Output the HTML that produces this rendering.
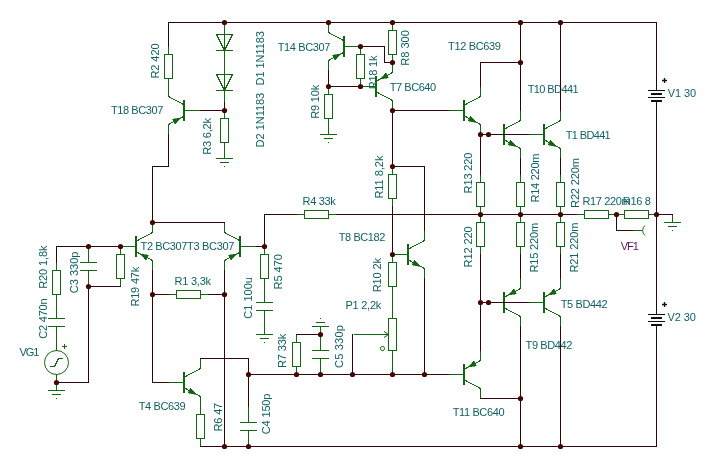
<!DOCTYPE html>
<html><head><meta charset="utf-8"><style>
html,body{margin:0;padding:0;background:#fff;width:717px;height:468px;overflow:hidden}
svg{display:block;will-change:transform}
line,polyline,rect,polygon{shape-rendering:crispEdges}
line,polyline{stroke-linecap:square}
text{font-family:"Liberation Sans",sans-serif;font-size:11px}
</style></head><body>
<svg width="717" height="468" viewBox="0 0 717 468"><text x="110.90" y="114" textLength="52.46" lengthAdjust="spacing" fill="#0f6262">T18 BC307</text>
<text x="277.75" y="51" textLength="52.51" lengthAdjust="spacing" fill="#0f6262">T14 BC307</text>
<text x="448.00" y="50" textLength="52.91" lengthAdjust="spacing" fill="#0f6262">T12 BC639</text>
<text x="389.80" y="91" textLength="46.33" lengthAdjust="spacing" fill="#0f6262">T7 BC640</text>
<text x="527.70" y="93" textLength="50.96" lengthAdjust="spacing" fill="#0f6262">T10 BD441</text>
<text x="565.80" y="139" textLength="44.93" lengthAdjust="spacing" fill="#0f6262">T1 BD441</text>
<text x="667.70" y="97" textLength="28.35" lengthAdjust="spacing" fill="#0f6262">V1 30</text>
<text x="302.60" y="205" textLength="33.16" lengthAdjust="spacing" fill="#0f6262">R4 33k</text>
<text x="582.50" y="205" textLength="48.08" lengthAdjust="spacing" fill="#0f6262">R17 220m</text>
<text x="622.80" y="205" textLength="28.06" lengthAdjust="spacing" fill="#0f6262">R16 8</text>
<text x="338.70" y="241" textLength="46.73" lengthAdjust="spacing" fill="#0f6262">T8 BC182</text>
<text x="140.55" y="250" textLength="46.85" lengthAdjust="spacing" fill="#0f6262">T2 BC307</text>
<text x="187.00" y="250" textLength="47.43" lengthAdjust="spacing" fill="#0f6262">T3 BC307</text>
<text x="174.60" y="285" textLength="36.42" lengthAdjust="spacing" fill="#0f6262">R1 3,3k</text>
<text x="620.70" y="250" textLength="18.09" lengthAdjust="spacing" fill="#5c0f5c">VF1</text>
<text x="345.40" y="309" textLength="35.91" lengthAdjust="spacing" fill="#0f6262">P1 2,2k</text>
<text x="560.70" y="308" textLength="46.93" lengthAdjust="spacing" fill="#0f6262">T5 BD442</text>
<text x="667.50" y="321" textLength="28.25" lengthAdjust="spacing" fill="#0f6262">V2 30</text>
<text x="525.60" y="349" textLength="46.73" lengthAdjust="spacing" fill="#0f6262">T9 BD442</text>
<text x="19.60" y="356" textLength="19.82" lengthAdjust="spacing" fill="#0f6262">VG1</text>
<text x="138.70" y="410" textLength="46.93" lengthAdjust="spacing" fill="#0f6262">T4 BC639</text>
<text x="452.70" y="416" textLength="51.83" lengthAdjust="spacing" fill="#0f6262">T11 BC640</text>
<text transform="translate(158.5,78.60) rotate(-90)" textLength="35.18" lengthAdjust="spacing" fill="#0f6262">R2 420</text>
<text transform="translate(263.5,85.40) rotate(-90)" textLength="54.24" lengthAdjust="spacing" fill="#0f6262">D1 1N1183</text>
<text transform="translate(263.5,147.40) rotate(-90)" textLength="54.64" lengthAdjust="spacing" fill="#0f6262">D2 1N1183</text>
<text transform="translate(210.5,154.80) rotate(-90)" textLength="36.72" lengthAdjust="spacing" fill="#0f6262">R3 6,2k</text>
<text transform="translate(318.5,118.70) rotate(-90)" textLength="33.86" lengthAdjust="spacing" fill="#0f6262">R9 10k</text>
<text transform="translate(376.5,89.30) rotate(-90)" textLength="33.76" lengthAdjust="spacing" fill="#0f6262">R18 1k</text>
<text transform="translate(408.5,65.70) rotate(-90)" textLength="35.48" lengthAdjust="spacing" fill="#0f6262">R8 300</text>
<text transform="translate(382.5,198.60) rotate(-90)" textLength="43.02" lengthAdjust="spacing" fill="#0f6262">R11 8,2k</text>
<text transform="translate(471.5,193.40) rotate(-90)" textLength="40.89" lengthAdjust="spacing" fill="#0f6262">R13 220</text>
<text transform="translate(538.5,202.50) rotate(-90)" textLength="48.97" lengthAdjust="spacing" fill="#0f6262">R14 220m</text>
<text transform="translate(578.5,207.90) rotate(-90)" textLength="49.77" lengthAdjust="spacing" fill="#0f6262">R22 220m</text>
<text transform="translate(471.5,267.40) rotate(-90)" textLength="41.09" lengthAdjust="spacing" fill="#0f6262">R12 220</text>
<text transform="translate(537.5,272.50) rotate(-90)" textLength="49.67" lengthAdjust="spacing" fill="#0f6262">R15 220m</text>
<text transform="translate(577.5,272.50) rotate(-90)" textLength="49.97" lengthAdjust="spacing" fill="#0f6262">R21 220m</text>
<text transform="translate(138.5,306.60) rotate(-90)" textLength="39.88" lengthAdjust="spacing" fill="#0f6262">R19 47k</text>
<text transform="translate(46.5,288.80) rotate(-90)" textLength="43.23" lengthAdjust="spacing" fill="#0f6262">R20 1,8k</text>
<text transform="translate(77.5,293.20) rotate(-90)" textLength="41.59" lengthAdjust="spacing" fill="#0f6262">C3 330p</text>
<text transform="translate(46.5,338.80) rotate(-90)" textLength="40.49" lengthAdjust="spacing" fill="#0f6262">C2 470n</text>
<text transform="translate(251.5,318.70) rotate(-90)" textLength="41.59" lengthAdjust="spacing" fill="#0f6262">C1 100u</text>
<text transform="translate(281.5,289.50) rotate(-90)" textLength="35.38" lengthAdjust="spacing" fill="#0f6262">R5 470</text>
<text transform="translate(285.5,368.00) rotate(-90)" textLength="34.36" lengthAdjust="spacing" fill="#0f6262">R7 33k</text>
<text transform="translate(342.5,368.00) rotate(-90)" textLength="42.89" lengthAdjust="spacing" fill="#0f6262">C5 330p</text>
<text transform="translate(380.5,292.30) rotate(-90)" textLength="34.36" lengthAdjust="spacing" fill="#0f6262">R10 2k</text>
<text transform="translate(221.5,431.50) rotate(-90)" textLength="28.76" lengthAdjust="spacing" fill="#0f6262">R6 47</text>
<text transform="translate(269.5,434.30) rotate(-90)" textLength="40.79" lengthAdjust="spacing" fill="#0f6262">C4 150p</text>
<line x1="168.5" y1="46.5" x2="168.5" y2="54.5" stroke="#0f680f" stroke-width="1"/>
<line x1="168.5" y1="78.5" x2="168.5" y2="86.5" stroke="#0f680f" stroke-width="1"/>
<rect x="164.5" y="54.5" width="8" height="24" fill="none" stroke="#0f680f"/>
<rect x="183" y="100" width="2" height="21" fill="#0f680f"/>
<line x1="184.5" y1="110.5" x2="200.5" y2="110.5" stroke="#0f680f" stroke-width="1"/>
<line x1="183.5" y1="104.5" x2="168.5" y2="96.5" stroke="#0f680f"/>
<line x1="183.5" y1="116.5" x2="168.5" y2="124.5" stroke="#0f680f"/>
<line x1="168.5" y1="96.5" x2="168.5" y2="86.5" stroke="#0f680f" stroke-width="1"/>
<line x1="168.5" y1="124.5" x2="168.5" y2="134.5" stroke="#0f680f" stroke-width="1"/>
<polygon points="180.85,117.91 175.06,124.06 172.52,119.29" fill="#0f680f" stroke="#0f680f" stroke-width="0.6"/>
<line x1="224.5" y1="22.5" x2="224.5" y2="62.5" stroke="#0f680f" stroke-width="1"/>
<polygon points="216.5,34.5 232.5,34.5 224.5,50.5" fill="none" stroke="#0f680f"/>
<line x1="216.5" y1="50.5" x2="232.5" y2="50.5" stroke="#0f680f" stroke-width="1"/>
<line x1="224.5" y1="62.5" x2="224.5" y2="102.5" stroke="#0f680f" stroke-width="1"/>
<polygon points="216.5,74.5 232.5,74.5 224.5,90.5" fill="none" stroke="#0f680f"/>
<line x1="216.5" y1="90.5" x2="232.5" y2="90.5" stroke="#0f680f" stroke-width="1"/>
<line x1="224.5" y1="110.5" x2="224.5" y2="118.5" stroke="#0f680f" stroke-width="1"/>
<line x1="224.5" y1="142.5" x2="224.5" y2="150.5" stroke="#0f680f" stroke-width="1"/>
<rect x="220.5" y="118.5" width="8" height="24" fill="none" stroke="#0f680f"/>
<line x1="224.5" y1="150.5" x2="224.5" y2="158.5" stroke="#0f680f" stroke-width="1"/>
<line x1="216.5" y1="158.5" x2="232.5" y2="158.5" stroke="#0f680f" stroke-width="1"/>
<line x1="220.5" y1="162.5" x2="228.5" y2="162.5" stroke="#0f680f" stroke-width="1"/>
<rect x="224" y="166" width="1" height="1" fill="#0f680f"/>
<rect x="343" y="36" width="2" height="21" fill="#0f680f"/>
<line x1="344.5" y1="46.5" x2="360.5" y2="46.5" stroke="#0f680f" stroke-width="1"/>
<line x1="343.5" y1="40.5" x2="328.5" y2="32.5" stroke="#0f680f"/>
<line x1="343.5" y1="52.5" x2="328.5" y2="60.5" stroke="#0f680f"/>
<line x1="328.5" y1="32.5" x2="328.5" y2="22.5" stroke="#0f680f" stroke-width="1"/>
<line x1="328.5" y1="60.5" x2="328.5" y2="70.5" stroke="#0f680f" stroke-width="1"/>
<polygon points="340.85,53.91 335.06,60.06 332.52,55.29" fill="#0f680f" stroke="#0f680f" stroke-width="0.6"/>
<line x1="328.5" y1="86.5" x2="328.5" y2="94.5" stroke="#0f680f" stroke-width="1"/>
<line x1="328.5" y1="118.5" x2="328.5" y2="126.5" stroke="#0f680f" stroke-width="1"/>
<rect x="324.5" y="94.5" width="8" height="24" fill="none" stroke="#0f680f"/>
<line x1="328.5" y1="126.5" x2="328.5" y2="134.5" stroke="#0f680f" stroke-width="1"/>
<line x1="320.5" y1="134.5" x2="336.5" y2="134.5" stroke="#0f680f" stroke-width="1"/>
<line x1="324.5" y1="138.5" x2="332.5" y2="138.5" stroke="#0f680f" stroke-width="1"/>
<rect x="328" y="142" width="1" height="1" fill="#0f680f"/>
<line x1="360.5" y1="46.5" x2="360.5" y2="54.5" stroke="#0f680f" stroke-width="1"/>
<line x1="360.5" y1="78.5" x2="360.5" y2="86.5" stroke="#0f680f" stroke-width="1"/>
<rect x="356.5" y="54.5" width="8" height="24" fill="none" stroke="#0f680f"/>
<line x1="392.5" y1="22.5" x2="392.5" y2="30.5" stroke="#0f680f" stroke-width="1"/>
<line x1="392.5" y1="54.5" x2="392.5" y2="62.5" stroke="#0f680f" stroke-width="1"/>
<rect x="388.5" y="30.5" width="8" height="24" fill="none" stroke="#0f680f"/>
<rect x="375" y="76" width="2" height="21" fill="#0f680f"/>
<line x1="360.5" y1="86.5" x2="376.5" y2="86.5" stroke="#0f680f" stroke-width="1"/>
<line x1="377.5" y1="80.5" x2="392.5" y2="72.5" stroke="#0f680f"/>
<line x1="377.5" y1="92.5" x2="392.5" y2="100.5" stroke="#0f680f"/>
<line x1="392.5" y1="72.5" x2="392.5" y2="62.5" stroke="#0f680f" stroke-width="1"/>
<line x1="392.5" y1="100.5" x2="392.5" y2="110.5" stroke="#0f680f" stroke-width="1"/>
<polygon points="380.15,79.09 385.94,72.94 388.48,77.71" fill="#0f680f" stroke="#0f680f" stroke-width="0.6"/>
<rect x="463" y="100" width="2" height="21" fill="#0f680f"/>
<line x1="448.5" y1="110.5" x2="464.5" y2="110.5" stroke="#0f680f" stroke-width="1"/>
<line x1="465.5" y1="104.5" x2="480.5" y2="96.5" stroke="#0f680f"/>
<line x1="465.5" y1="116.5" x2="480.5" y2="124.5" stroke="#0f680f"/>
<line x1="480.5" y1="96.5" x2="480.5" y2="86.5" stroke="#0f680f" stroke-width="1"/>
<line x1="480.5" y1="124.5" x2="480.5" y2="134.5" stroke="#0f680f" stroke-width="1"/>
<polygon points="476.97,122.62 467.94,120.86 470.48,116.09" fill="#0f680f" stroke="#0f680f" stroke-width="0.6"/>
<rect x="503" y="124" width="2" height="21" fill="#0f680f"/>
<line x1="488.5" y1="134.5" x2="504.5" y2="134.5" stroke="#0f680f" stroke-width="1"/>
<line x1="505.5" y1="128.5" x2="520.5" y2="120.5" stroke="#0f680f"/>
<line x1="505.5" y1="140.5" x2="520.5" y2="148.5" stroke="#0f680f"/>
<line x1="520.5" y1="120.5" x2="520.5" y2="110.5" stroke="#0f680f" stroke-width="1"/>
<line x1="520.5" y1="148.5" x2="520.5" y2="158.5" stroke="#0f680f" stroke-width="1"/>
<polygon points="516.97,146.62 507.94,144.86 510.48,140.09" fill="#0f680f" stroke="#0f680f" stroke-width="0.6"/>
<rect x="543" y="124" width="2" height="21" fill="#0f680f"/>
<line x1="528.5" y1="134.5" x2="544.5" y2="134.5" stroke="#0f680f" stroke-width="1"/>
<line x1="545.5" y1="128.5" x2="560.5" y2="120.5" stroke="#0f680f"/>
<line x1="545.5" y1="140.5" x2="560.5" y2="148.5" stroke="#0f680f"/>
<line x1="560.5" y1="120.5" x2="560.5" y2="110.5" stroke="#0f680f" stroke-width="1"/>
<line x1="560.5" y1="148.5" x2="560.5" y2="158.5" stroke="#0f680f" stroke-width="1"/>
<polygon points="556.97,146.62 547.94,144.86 550.48,140.09" fill="#0f680f" stroke="#0f680f" stroke-width="0.6"/>
<line x1="480.5" y1="174.5" x2="480.5" y2="182.5" stroke="#0f680f" stroke-width="1"/>
<line x1="480.5" y1="206.5" x2="480.5" y2="214.5" stroke="#0f680f" stroke-width="1"/>
<rect x="476.5" y="182.5" width="8" height="24" fill="none" stroke="#0f680f"/>
<line x1="480.5" y1="214.5" x2="480.5" y2="222.5" stroke="#0f680f" stroke-width="1"/>
<line x1="480.5" y1="246.5" x2="480.5" y2="254.5" stroke="#0f680f" stroke-width="1"/>
<rect x="476.5" y="222.5" width="8" height="24" fill="none" stroke="#0f680f"/>
<line x1="520.5" y1="174.5" x2="520.5" y2="182.5" stroke="#0f680f" stroke-width="1"/>
<line x1="520.5" y1="206.5" x2="520.5" y2="214.5" stroke="#0f680f" stroke-width="1"/>
<rect x="516.5" y="182.5" width="8" height="24" fill="none" stroke="#0f680f"/>
<line x1="520.5" y1="214.5" x2="520.5" y2="222.5" stroke="#0f680f" stroke-width="1"/>
<line x1="520.5" y1="246.5" x2="520.5" y2="254.5" stroke="#0f680f" stroke-width="1"/>
<rect x="516.5" y="222.5" width="8" height="24" fill="none" stroke="#0f680f"/>
<line x1="560.5" y1="174.5" x2="560.5" y2="182.5" stroke="#0f680f" stroke-width="1"/>
<line x1="560.5" y1="206.5" x2="560.5" y2="214.5" stroke="#0f680f" stroke-width="1"/>
<rect x="556.5" y="182.5" width="8" height="24" fill="none" stroke="#0f680f"/>
<line x1="560.5" y1="214.5" x2="560.5" y2="222.5" stroke="#0f680f" stroke-width="1"/>
<line x1="560.5" y1="246.5" x2="560.5" y2="254.5" stroke="#0f680f" stroke-width="1"/>
<rect x="556.5" y="222.5" width="8" height="24" fill="none" stroke="#0f680f"/>
<line x1="296.5" y1="214.5" x2="304.5" y2="214.5" stroke="#0f680f" stroke-width="1"/>
<line x1="328.5" y1="214.5" x2="336.5" y2="214.5" stroke="#0f680f" stroke-width="1"/>
<rect x="304.5" y="210.5" width="24" height="8" fill="none" stroke="#0f680f"/>
<line x1="392.5" y1="166.5" x2="392.5" y2="174.5" stroke="#0f680f" stroke-width="1"/>
<line x1="392.5" y1="198.5" x2="392.5" y2="206.5" stroke="#0f680f" stroke-width="1"/>
<rect x="388.5" y="174.5" width="8" height="24" fill="none" stroke="#0f680f"/>
<rect x="407" y="244" width="2" height="21" fill="#0f680f"/>
<line x1="392.5" y1="254.5" x2="408.5" y2="254.5" stroke="#0f680f" stroke-width="1"/>
<line x1="409.5" y1="248.5" x2="424.5" y2="240.5" stroke="#0f680f"/>
<line x1="409.5" y1="260.5" x2="424.5" y2="268.5" stroke="#0f680f"/>
<line x1="424.5" y1="240.5" x2="424.5" y2="230.5" stroke="#0f680f" stroke-width="1"/>
<line x1="424.5" y1="268.5" x2="424.5" y2="278.5" stroke="#0f680f" stroke-width="1"/>
<polygon points="420.97,266.62 411.94,264.86 414.48,260.09" fill="#0f680f" stroke="#0f680f" stroke-width="0.6"/>
<line x1="392.5" y1="254.5" x2="392.5" y2="262.5" stroke="#0f680f" stroke-width="1"/>
<line x1="392.5" y1="286.5" x2="392.5" y2="294.5" stroke="#0f680f" stroke-width="1"/>
<rect x="388.5" y="262.5" width="8" height="24" fill="none" stroke="#0f680f"/>
<line x1="392.5" y1="294.5" x2="392.5" y2="318.5" stroke="#0f680f" stroke-width="1"/>
<line x1="392.5" y1="350.5" x2="392.5" y2="374.5" stroke="#0f680f" stroke-width="1"/>
<rect x="388.5" y="318.5" width="8" height="32" fill="none" stroke="#0f680f"/>
<line x1="354.5" y1="334.5" x2="388.5" y2="334.5" stroke="#0f680f" stroke-width="1"/>
<path d="M384,331.5 L388.5,334.5 L384,337.5" fill="none" stroke="#0f680f"/>
<circle cx="382.5" cy="348.5" r="2.1" fill="none" stroke="#0f680f" stroke-width="1"/>
<rect x="135" y="236" width="2" height="21" fill="#0f680f"/>
<line x1="120.5" y1="246.5" x2="136.5" y2="246.5" stroke="#0f680f" stroke-width="1"/>
<line x1="137.5" y1="240.5" x2="152.5" y2="232.5" stroke="#0f680f"/>
<line x1="137.5" y1="252.5" x2="152.5" y2="260.5" stroke="#0f680f"/>
<line x1="152.5" y1="232.5" x2="152.5" y2="222.5" stroke="#0f680f" stroke-width="1"/>
<line x1="152.5" y1="260.5" x2="152.5" y2="270.5" stroke="#0f680f" stroke-width="1"/>
<polygon points="140.15,253.91 148.48,255.29 145.94,260.06" fill="#0f680f" stroke="#0f680f" stroke-width="0.6"/>
<rect x="239" y="236" width="2" height="21" fill="#0f680f"/>
<line x1="240.5" y1="246.5" x2="256.5" y2="246.5" stroke="#0f680f" stroke-width="1"/>
<line x1="239.5" y1="240.5" x2="224.5" y2="232.5" stroke="#0f680f"/>
<line x1="239.5" y1="252.5" x2="224.5" y2="260.5" stroke="#0f680f"/>
<line x1="224.5" y1="232.5" x2="224.5" y2="222.5" stroke="#0f680f" stroke-width="1"/>
<line x1="224.5" y1="260.5" x2="224.5" y2="270.5" stroke="#0f680f" stroke-width="1"/>
<polygon points="236.85,253.91 231.06,260.06 228.52,255.29" fill="#0f680f" stroke="#0f680f" stroke-width="0.6"/>
<line x1="120.5" y1="246.5" x2="120.5" y2="254.5" stroke="#0f680f" stroke-width="1"/>
<line x1="120.5" y1="278.5" x2="120.5" y2="286.5" stroke="#0f680f" stroke-width="1"/>
<rect x="116.5" y="254.5" width="8" height="24" fill="none" stroke="#0f680f"/>
<line x1="168.5" y1="294.5" x2="176.5" y2="294.5" stroke="#0f680f" stroke-width="1"/>
<line x1="200.5" y1="294.5" x2="208.5" y2="294.5" stroke="#0f680f" stroke-width="1"/>
<rect x="176.5" y="290.5" width="24" height="8" fill="none" stroke="#0f680f"/>
<line x1="264.5" y1="246.5" x2="264.5" y2="254.5" stroke="#0f680f" stroke-width="1"/>
<line x1="264.5" y1="278.5" x2="264.5" y2="286.5" stroke="#0f680f" stroke-width="1"/>
<rect x="260.5" y="254.5" width="8" height="24" fill="none" stroke="#0f680f"/>
<line x1="264.5" y1="286.5" x2="264.5" y2="302.5" stroke="#0f680f" stroke-width="1"/>
<line x1="264.5" y1="310.5" x2="264.5" y2="326.5" stroke="#0f680f" stroke-width="1"/>
<line x1="256.5" y1="302.5" x2="272.5" y2="302.5" stroke="#0f680f" stroke-width="1"/>
<line x1="256.5" y1="310.5" x2="272.5" y2="310.5" stroke="#0f680f" stroke-width="1"/>
<line x1="264.5" y1="326.5" x2="264.5" y2="334.5" stroke="#0f680f" stroke-width="1"/>
<line x1="256.5" y1="334.5" x2="272.5" y2="334.5" stroke="#0f680f" stroke-width="1"/>
<line x1="260.5" y1="338.5" x2="268.5" y2="338.5" stroke="#0f680f" stroke-width="1"/>
<rect x="264" y="342" width="1" height="1" fill="#0f680f"/>
<line x1="56.5" y1="262.5" x2="56.5" y2="270.5" stroke="#0f680f" stroke-width="1"/>
<line x1="56.5" y1="294.5" x2="56.5" y2="302.5" stroke="#0f680f" stroke-width="1"/>
<rect x="52.5" y="270.5" width="8" height="24" fill="none" stroke="#0f680f"/>
<line x1="88.5" y1="246.5" x2="88.5" y2="262.5" stroke="#0f680f" stroke-width="1"/>
<line x1="88.5" y1="270.5" x2="88.5" y2="286.5" stroke="#0f680f" stroke-width="1"/>
<line x1="80.5" y1="262.5" x2="96.5" y2="262.5" stroke="#0f680f" stroke-width="1"/>
<line x1="80.5" y1="270.5" x2="96.5" y2="270.5" stroke="#0f680f" stroke-width="1"/>
<line x1="56.5" y1="302.5" x2="56.5" y2="318.5" stroke="#0f680f" stroke-width="1"/>
<line x1="56.5" y1="326.5" x2="56.5" y2="342.5" stroke="#0f680f" stroke-width="1"/>
<line x1="48.5" y1="318.5" x2="64.5" y2="318.5" stroke="#0f680f" stroke-width="1"/>
<line x1="48.5" y1="326.5" x2="64.5" y2="326.5" stroke="#0f680f" stroke-width="1"/>
<line x1="56.5" y1="342.5" x2="56.5" y2="350.5" stroke="#0f680f" stroke-width="1"/>
<line x1="56.5" y1="374.5" x2="56.5" y2="382.5" stroke="#0f680f" stroke-width="1"/>
<circle cx="56.5" cy="362.5" r="12" fill="none" stroke="#0f680f"/>
<polyline points="50.5,366.5 54.5,366.5 58.5,358.5 62.5,358.5" fill="none" stroke="#0f680f" stroke-width="1"/>
<line x1="62.5" y1="346.5" x2="66.5" y2="346.5" stroke="#0f680f" stroke-width="1"/>
<line x1="64.5" y1="344.5" x2="64.5" y2="348.5" stroke="#0f680f" stroke-width="1"/>
<line x1="56.5" y1="382.5" x2="56.5" y2="390.5" stroke="#0f680f" stroke-width="1"/>
<line x1="48.5" y1="390.5" x2="64.5" y2="390.5" stroke="#0f680f" stroke-width="1"/>
<line x1="52.5" y1="394.5" x2="60.5" y2="394.5" stroke="#0f680f" stroke-width="1"/>
<rect x="56" y="398" width="1" height="1" fill="#0f680f"/>
<rect x="183" y="372" width="2" height="21" fill="#0f680f"/>
<line x1="168.5" y1="382.5" x2="184.5" y2="382.5" stroke="#0f680f" stroke-width="1"/>
<line x1="185.5" y1="376.5" x2="200.5" y2="368.5" stroke="#0f680f"/>
<line x1="185.5" y1="388.5" x2="200.5" y2="396.5" stroke="#0f680f"/>
<line x1="200.5" y1="368.5" x2="200.5" y2="358.5" stroke="#0f680f" stroke-width="1"/>
<line x1="200.5" y1="396.5" x2="200.5" y2="406.5" stroke="#0f680f" stroke-width="1"/>
<polygon points="196.97,394.62 187.94,392.86 190.48,388.09" fill="#0f680f" stroke="#0f680f" stroke-width="0.6"/>
<line x1="200.5" y1="406.5" x2="200.5" y2="414.5" stroke="#0f680f" stroke-width="1"/>
<line x1="200.5" y1="438.5" x2="200.5" y2="446.5" stroke="#0f680f" stroke-width="1"/>
<rect x="196.5" y="414.5" width="8" height="24" fill="none" stroke="#0f680f"/>
<line x1="248.5" y1="406.5" x2="248.5" y2="422.5" stroke="#0f680f" stroke-width="1"/>
<line x1="248.5" y1="430.5" x2="248.5" y2="446.5" stroke="#0f680f" stroke-width="1"/>
<line x1="240.5" y1="422.5" x2="256.5" y2="422.5" stroke="#0f680f" stroke-width="1"/>
<line x1="240.5" y1="430.5" x2="256.5" y2="430.5" stroke="#0f680f" stroke-width="1"/>
<line x1="296.5" y1="334.5" x2="296.5" y2="342.5" stroke="#0f680f" stroke-width="1"/>
<line x1="296.5" y1="366.5" x2="296.5" y2="374.5" stroke="#0f680f" stroke-width="1"/>
<rect x="292.5" y="342.5" width="8" height="24" fill="none" stroke="#0f680f"/>
<line x1="320.5" y1="334.5" x2="320.5" y2="350.5" stroke="#0f680f" stroke-width="1"/>
<line x1="320.5" y1="358.5" x2="320.5" y2="374.5" stroke="#0f680f" stroke-width="1"/>
<line x1="312.5" y1="350.5" x2="328.5" y2="350.5" stroke="#0f680f" stroke-width="1"/>
<line x1="312.5" y1="358.5" x2="328.5" y2="358.5" stroke="#0f680f" stroke-width="1"/>
<line x1="320.5" y1="334.5" x2="320.5" y2="326.5" stroke="#0f680f" stroke-width="1"/>
<line x1="312.5" y1="326.5" x2="328.5" y2="326.5" stroke="#0f680f" stroke-width="1"/>
<line x1="316.5" y1="322.5" x2="324.5" y2="322.5" stroke="#0f680f" stroke-width="1"/>
<rect x="320" y="318" width="1" height="1" fill="#0f680f"/>
<rect x="503" y="292" width="2" height="21" fill="#0f680f"/>
<line x1="488.5" y1="302.5" x2="504.5" y2="302.5" stroke="#0f680f" stroke-width="1"/>
<line x1="505.5" y1="296.5" x2="520.5" y2="288.5" stroke="#0f680f"/>
<line x1="505.5" y1="308.5" x2="520.5" y2="316.5" stroke="#0f680f"/>
<line x1="520.5" y1="288.5" x2="520.5" y2="278.5" stroke="#0f680f" stroke-width="1"/>
<line x1="520.5" y1="316.5" x2="520.5" y2="326.5" stroke="#0f680f" stroke-width="1"/>
<polygon points="508.15,295.09 513.94,288.94 516.48,293.71" fill="#0f680f" stroke="#0f680f" stroke-width="0.6"/>
<rect x="543" y="292" width="2" height="21" fill="#0f680f"/>
<line x1="528.5" y1="302.5" x2="544.5" y2="302.5" stroke="#0f680f" stroke-width="1"/>
<line x1="545.5" y1="296.5" x2="560.5" y2="288.5" stroke="#0f680f"/>
<line x1="545.5" y1="308.5" x2="560.5" y2="316.5" stroke="#0f680f"/>
<line x1="560.5" y1="288.5" x2="560.5" y2="278.5" stroke="#0f680f" stroke-width="1"/>
<line x1="560.5" y1="316.5" x2="560.5" y2="326.5" stroke="#0f680f" stroke-width="1"/>
<polygon points="548.15,295.09 553.94,288.94 556.48,293.71" fill="#0f680f" stroke="#0f680f" stroke-width="0.6"/>
<rect x="463" y="364" width="2" height="21" fill="#0f680f"/>
<line x1="448.5" y1="374.5" x2="464.5" y2="374.5" stroke="#0f680f" stroke-width="1"/>
<line x1="465.5" y1="368.5" x2="480.5" y2="360.5" stroke="#0f680f"/>
<line x1="465.5" y1="380.5" x2="480.5" y2="388.5" stroke="#0f680f"/>
<line x1="480.5" y1="360.5" x2="480.5" y2="350.5" stroke="#0f680f" stroke-width="1"/>
<line x1="480.5" y1="388.5" x2="480.5" y2="398.5" stroke="#0f680f" stroke-width="1"/>
<polygon points="468.15,367.09 473.94,360.94 476.48,365.71" fill="#0f680f" stroke="#0f680f" stroke-width="0.6"/>
<line x1="576.5" y1="214.5" x2="584.5" y2="214.5" stroke="#0f680f" stroke-width="1"/>
<line x1="608.5" y1="214.5" x2="616.5" y2="214.5" stroke="#0f680f" stroke-width="1"/>
<rect x="584.5" y="210.5" width="24" height="8" fill="none" stroke="#0f680f"/>
<line x1="616.5" y1="214.5" x2="624.5" y2="214.5" stroke="#0f680f" stroke-width="1"/>
<line x1="648.5" y1="214.5" x2="656.5" y2="214.5" stroke="#0f680f" stroke-width="1"/>
<rect x="624.5" y="210.5" width="24" height="8" fill="none" stroke="#0f680f"/>
<line x1="672.5" y1="214.5" x2="672.5" y2="222.5" stroke="#0f680f" stroke-width="1"/>
<line x1="664.5" y1="222.5" x2="680.5" y2="222.5" stroke="#0f680f" stroke-width="1"/>
<line x1="668.5" y1="226.5" x2="676.5" y2="226.5" stroke="#0f680f" stroke-width="1"/>
<rect x="672" y="230" width="1" height="1" fill="#0f680f"/>
<line x1="632.5" y1="230.5" x2="641.5" y2="230.5" stroke="#0f680f" stroke-width="1"/>
<path d="M645,225.5 A6.5,6.5 0 0,0 645,235.5" fill="none" stroke="#0f680f"/>
<line x1="648.5" y1="90.5" x2="664.5" y2="90.5" stroke="#101010" stroke-width="1"/>
<rect x="651" y="93" width="11" height="2" fill="#101010"/>
<line x1="648.5" y1="97.5" x2="664.5" y2="97.5" stroke="#101010" stroke-width="1"/>
<rect x="651" y="100" width="11" height="2" fill="#101010"/>
<rect x="656" y="102" width="1" height="16" fill="#101010"/>
<rect x="656" y="78" width="1" height="12" fill="#101010"/>
<path d="M662,80.5H667M664.5,78V83" stroke="#101010" stroke-width="1.3" fill="none"/>
<line x1="648.5" y1="314.5" x2="664.5" y2="314.5" stroke="#101010" stroke-width="1"/>
<rect x="651" y="317" width="11" height="2" fill="#101010"/>
<line x1="648.5" y1="321.5" x2="664.5" y2="321.5" stroke="#101010" stroke-width="1"/>
<rect x="651" y="324" width="11" height="2" fill="#101010"/>
<rect x="656" y="326" width="1" height="16" fill="#101010"/>
<rect x="656" y="302" width="1" height="12" fill="#101010"/>
<path d="M662,304.5H667M664.5,302V307" stroke="#101010" stroke-width="1.3" fill="none"/>
<polyline points="168.5,46.5 168.5,22.5 656.5,22.5 656.5,78.5" fill="none" stroke="#320606" stroke-width="1"/>
<polyline points="656.5,118.5 656.5,302.5" fill="none" stroke="#320606" stroke-width="1"/>
<polyline points="656.5,342.5 656.5,446.5 200.5,446.5" fill="none" stroke="#320606" stroke-width="1"/>
<polyline points="224.5,102.5 224.5,110.5" fill="none" stroke="#320606" stroke-width="1"/>
<polyline points="200.5,110.5 224.5,110.5" fill="none" stroke="#320606" stroke-width="1"/>
<polyline points="168.5,134.5 168.5,166.5 152.5,166.5 152.5,222.5 224.5,222.5" fill="none" stroke="#320606" stroke-width="1"/>
<polyline points="152.5,270.5 152.5,382.5 168.5,382.5" fill="none" stroke="#320606" stroke-width="1"/>
<polyline points="152.5,294.5 168.5,294.5" fill="none" stroke="#320606" stroke-width="1"/>
<polyline points="208.5,294.5 224.5,294.5" fill="none" stroke="#320606" stroke-width="1"/>
<polyline points="224.5,270.5 224.5,446.5" fill="none" stroke="#320606" stroke-width="1"/>
<polyline points="56.5,262.5 56.5,246.5 120.5,246.5" fill="none" stroke="#320606" stroke-width="1"/>
<polyline points="120.5,286.5 88.5,286.5 88.5,382.5 56.5,382.5" fill="none" stroke="#320606" stroke-width="1"/>
<polyline points="256.5,246.5 264.5,246.5 264.5,214.5 296.5,214.5" fill="none" stroke="#320606" stroke-width="1"/>
<polyline points="336.5,214.5 576.5,214.5" fill="none" stroke="#320606" stroke-width="1"/>
<polyline points="656.5,214.5 672.5,214.5" fill="none" stroke="#320606" stroke-width="1"/>
<polyline points="616.5,214.5 616.5,230.5 632.5,230.5" fill="none" stroke="#320606" stroke-width="1"/>
<polyline points="200.5,358.5 248.5,358.5 248.5,406.5" fill="none" stroke="#320606" stroke-width="1"/>
<polyline points="248.5,374.5 448.5,374.5" fill="none" stroke="#320606" stroke-width="1"/>
<polyline points="296.5,334.5 320.5,334.5" fill="none" stroke="#320606" stroke-width="1"/>
<polyline points="352.5,374.5 352.5,334.5" fill="none" stroke="#320606" stroke-width="1"/>
<polyline points="424.5,278.5 424.5,374.5" fill="none" stroke="#320606" stroke-width="1"/>
<polyline points="424.5,230.5 424.5,166.5 392.5,166.5" fill="none" stroke="#320606" stroke-width="1"/>
<polyline points="392.5,110.5 392.5,166.5" fill="none" stroke="#320606" stroke-width="1"/>
<polyline points="392.5,206.5 392.5,254.5" fill="none" stroke="#320606" stroke-width="1"/>
<polyline points="392.5,110.5 448.5,110.5" fill="none" stroke="#320606" stroke-width="1"/>
<polyline points="360.5,46.5 384.5,46.5 384.5,62.5 392.5,62.5" fill="none" stroke="#320606" stroke-width="1"/>
<polyline points="328.5,70.5 328.5,86.5 360.5,86.5" fill="none" stroke="#320606" stroke-width="1"/>
<polyline points="480.5,86.5 480.5,62.5 520.5,62.5" fill="none" stroke="#320606" stroke-width="1"/>
<polyline points="520.5,110.5 520.5,22.5" fill="none" stroke="#320606" stroke-width="1"/>
<polyline points="560.5,110.5 560.5,22.5" fill="none" stroke="#320606" stroke-width="1"/>
<polyline points="480.5,134.5 528.5,134.5" fill="none" stroke="#320606" stroke-width="1"/>
<polyline points="480.5,134.5 480.5,174.5" fill="none" stroke="#320606" stroke-width="1"/>
<polyline points="520.5,158.5 520.5,174.5" fill="none" stroke="#320606" stroke-width="1"/>
<polyline points="560.5,158.5 560.5,174.5" fill="none" stroke="#320606" stroke-width="1"/>
<polyline points="480.5,254.5 480.5,350.5" fill="none" stroke="#320606" stroke-width="1"/>
<polyline points="480.5,302.5 528.5,302.5" fill="none" stroke="#320606" stroke-width="1"/>
<polyline points="520.5,254.5 520.5,278.5" fill="none" stroke="#320606" stroke-width="1"/>
<polyline points="560.5,254.5 560.5,278.5" fill="none" stroke="#320606" stroke-width="1"/>
<polyline points="520.5,326.5 520.5,446.5" fill="none" stroke="#320606" stroke-width="1"/>
<polyline points="560.5,326.5 560.5,446.5" fill="none" stroke="#320606" stroke-width="1"/>
<polyline points="480.5,398.5 520.5,398.5" fill="none" stroke="#320606" stroke-width="1"/>
<circle cx="224.5" cy="22.5" r="2.6" fill="#420808"/>
<circle cx="328.5" cy="22.5" r="2.6" fill="#420808"/>
<circle cx="392.5" cy="22.5" r="2.6" fill="#420808"/>
<circle cx="520.5" cy="22.5" r="2.6" fill="#420808"/>
<circle cx="560.5" cy="22.5" r="2.6" fill="#420808"/>
<circle cx="224.5" cy="110.5" r="2.6" fill="#420808"/>
<circle cx="360.5" cy="46.5" r="2.6" fill="#420808"/>
<circle cx="392.5" cy="62.5" r="2.6" fill="#420808"/>
<circle cx="328.5" cy="86.5" r="2.6" fill="#420808"/>
<circle cx="360.5" cy="86.5" r="2.6" fill="#420808"/>
<circle cx="392.5" cy="110.5" r="2.6" fill="#420808"/>
<circle cx="520.5" cy="62.5" r="2.6" fill="#420808"/>
<circle cx="480.5" cy="134.5" r="2.6" fill="#420808"/>
<circle cx="488.5" cy="134.5" r="2.6" fill="#420808"/>
<circle cx="392.5" cy="166.5" r="2.6" fill="#420808"/>
<circle cx="480.5" cy="214.5" r="2.6" fill="#420808"/>
<circle cx="520.5" cy="214.5" r="2.6" fill="#420808"/>
<circle cx="560.5" cy="214.5" r="2.6" fill="#420808"/>
<circle cx="616.5" cy="214.5" r="2.6" fill="#420808"/>
<circle cx="656.5" cy="214.5" r="2.6" fill="#420808"/>
<circle cx="152.5" cy="222.5" r="2.6" fill="#420808"/>
<circle cx="88.5" cy="246.5" r="2.6" fill="#420808"/>
<circle cx="120.5" cy="246.5" r="2.6" fill="#420808"/>
<circle cx="264.5" cy="246.5" r="2.6" fill="#420808"/>
<circle cx="392.5" cy="254.5" r="2.6" fill="#420808"/>
<circle cx="88.5" cy="286.5" r="2.6" fill="#420808"/>
<circle cx="152.5" cy="294.5" r="2.6" fill="#420808"/>
<circle cx="224.5" cy="294.5" r="2.6" fill="#420808"/>
<circle cx="480.5" cy="302.5" r="2.6" fill="#420808"/>
<circle cx="488.5" cy="302.5" r="2.6" fill="#420808"/>
<circle cx="320.5" cy="334.5" r="2.6" fill="#420808"/>
<circle cx="248.5" cy="374.5" r="2.6" fill="#420808"/>
<circle cx="296.5" cy="374.5" r="2.6" fill="#420808"/>
<circle cx="320.5" cy="374.5" r="2.6" fill="#420808"/>
<circle cx="352.5" cy="374.5" r="2.6" fill="#420808"/>
<circle cx="392.5" cy="374.5" r="2.6" fill="#420808"/>
<circle cx="424.5" cy="374.5" r="2.6" fill="#420808"/>
<circle cx="56.5" cy="382.5" r="2.6" fill="#420808"/>
<circle cx="520.5" cy="398.5" r="2.6" fill="#420808"/>
<circle cx="224.5" cy="446.5" r="2.6" fill="#420808"/>
<circle cx="248.5" cy="446.5" r="2.6" fill="#420808"/>
<circle cx="520.5" cy="446.5" r="2.6" fill="#420808"/>
<circle cx="560.5" cy="446.5" r="2.6" fill="#420808"/></svg>
</body></html>
